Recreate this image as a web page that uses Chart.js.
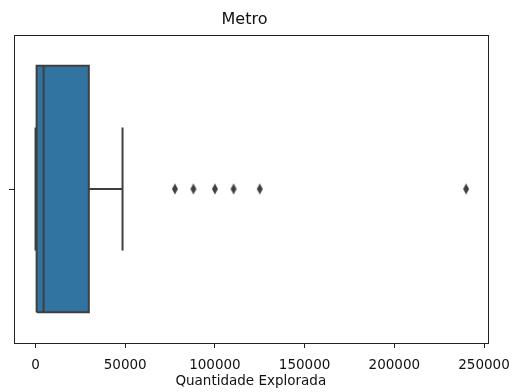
<!DOCTYPE html>
<html>
<head>
<meta charset="utf-8">
<script src="https://cdn.jsdelivr.net/npm/chart.js@4/dist/chart.umd.min.js"></script>
<style>
  html, body { margin: 0; padding: 0; background: #fff; }
  #wrap { width: 519px; height: 392px; position: relative; }
</style>
</head>
<body>
<div id="wrap"><canvas id="c"></canvas></div>
<script>
// Box plot summary of "Quantidade Explorada" for Metro
const boxStats = { min: 0, q1: 600, median: 4500, q3: 29700, max: 48500 };
const outliers = [77700, 88000, 100000, 110400, 125000, 240000];
const xTicks = [0, 50000, 100000, 150000, 200000, 250000];
const xRange = [-12000, 252000];

const boxFill = '#3274a1';
const edge = '#3f3f3f';
const halfBox = 0.4;
const halfCap = 0.2;

// thin diamond marker for the outliers
function diamondMarker(w, h, color) {
  const cv = document.createElement('canvas');
  cv.width = w + 2; cv.height = h + 2;
  const g = cv.getContext('2d');
  const cx = cv.width / 2, cy = cv.height / 2;
  g.fillStyle = color;
  g.beginPath();
  g.moveTo(cx, cy - h / 2);
  g.lineTo(cx + w / 2, cy);
  g.lineTo(cx, cy + h / 2);
  g.lineTo(cx - w / 2, cy);
  g.closePath();
  g.fill();
  return cv;
}

const seg = (pts) => ({
  type: 'line', data: pts, borderColor: edge, borderWidth: 2,
  pointRadius: 0, fill: false, tension: 0, order: 1
});

const datasets = [
  // box (Q1..Q3)
  {
    type: 'line',
    data: [
      { x: boxStats.q1, y: -halfBox }, { x: boxStats.q3, y: -halfBox },
      { x: boxStats.q3, y: halfBox }, { x: boxStats.q1, y: halfBox },
      { x: boxStats.q1, y: -halfBox }
    ],
    borderColor: edge, borderWidth: 2, backgroundColor: boxFill,
    fill: 'shape', pointRadius: 0, tension: 0, order: 2
  },
  // median
  seg([{ x: boxStats.median, y: -halfBox }, { x: boxStats.median, y: halfBox }]),
  // whiskers
  seg([{ x: boxStats.min, y: 0 }, { x: boxStats.q1, y: 0 }]),
  seg([{ x: boxStats.q3, y: 0 }, { x: boxStats.max, y: 0 }]),
  // caps
  seg([{ x: boxStats.min, y: -halfCap }, { x: boxStats.min, y: halfCap }]),
  seg([{ x: boxStats.max, y: -halfCap }, { x: boxStats.max, y: halfCap }]),
  // outliers
  {
    type: 'scatter',
    data: outliers.map(v => ({ x: v, y: 0 })),
    pointStyle: diamondMarker(6, 11, edge),
    pointRadius: 5, showLine: false, order: 0
  }
];

// full frame around the plot area
const frame = {
  id: 'frame',
  afterDatasetsDraw(chart) {
    const { ctx, chartArea: a } = chart;
    ctx.save();
    ctx.strokeStyle = '#222';
    ctx.lineWidth = 1;
    ctx.strokeRect(Math.round(a.left) + 0.5, Math.round(a.top) + 0.5,
                   Math.round(a.right - a.left), Math.round(a.bottom - a.top));
    ctx.restore();
  }
};

const font = { family: "'DejaVu Sans', sans-serif", size: 13.5 };

new Chart(document.getElementById('c'), {
  type: 'scatter',
  data: { datasets },
  plugins: [frame],
  options: {
    responsive: true,
    maintainAspectRatio: false,
    animation: false,
    layout: { padding: { left: 0, right: 30, top: 0, bottom: 0 } },
    plugins: {
      legend: { display: false },
      tooltip: { enabled: false },
      title: {
        display: true, text: 'Metro', color: '#111',
        font: { family: "'DejaVu Sans', sans-serif", size: 16, weight: 'normal' },
        padding: { top: 10, bottom: 5.8 }
      }
    },
    scales: {
      x: {
        type: 'linear', min: xRange[0], max: xRange[1],
        afterBuildTicks: (s) => { s.ticks = xTicks.map(v => ({ value: v })); },
        afterFit: (s) => { s.height = 49; },
        ticks: { color: '#111', font, padding: 9, maxRotation: 0,
                 callback: (v) => String(v) },
        grid: { drawOnChartArea: false, drawTicks: true, tickLength: 5, tickColor: '#222' },
        border: { display: false },
        title: { display: true, text: 'Quantidade Explorada', color: '#111', font,
                 padding: { top: 0, bottom: 2 } }
      },
      y: {
        type: 'linear', min: -0.5, max: 0.5,
        afterBuildTicks: (s) => { s.ticks = [{ value: 0 }]; },
        afterFit: (s) => { s.width = 14; },
        ticks: { callback: () => '', padding: 0 },
        grid: { drawOnChartArea: false, drawTicks: true, tickLength: 5, tickColor: '#222' },
        border: { display: false }
      }
    }
  }
});
</script>
</body>
</html>
